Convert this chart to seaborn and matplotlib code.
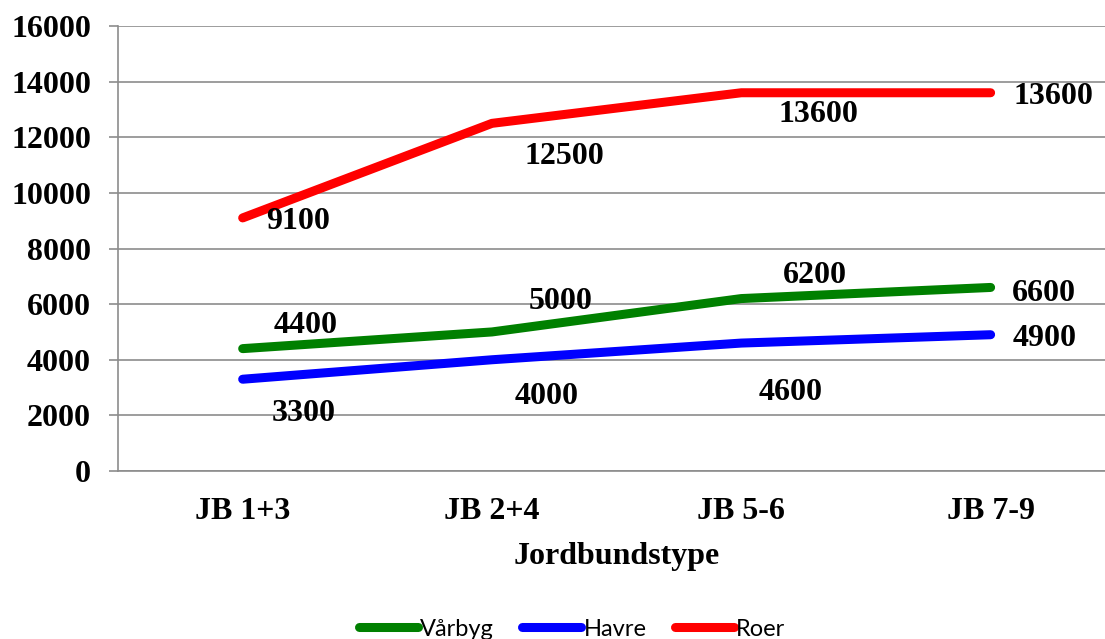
import numpy as np
import pandas as pd
import matplotlib
matplotlib.use("Agg")
import matplotlib.pyplot as plt
import seaborn as sns
from matplotlib.ticker import FixedLocator
from matplotlib.lines import Line2D

categories = ["JB 1+3", "JB 2+4", "JB 5-6", "JB 7-9"]
series_names = ["Vårbyg", "Havre", "Roer"]
varbyg = [4400, 5000, 6200, 6600]
havre = [3300, 4000, 4600, 4900]
roer = [9100, 12500, 13600, 13600]
y_ticks = [0, 2000, 4000, 6000, 8000, 10000, 12000, 14000, 16000]
x_label = "Jordbundstype"

colors = {"Vårbyg": "#008000", "Havre": "#0000FF", "Roer": "#FF0000"}

df = pd.DataFrame({
    "cat": categories * 3,
    "pos": list(range(len(categories))) * 3,
    "value": varbyg + havre + roer,
    "series": [s for s in series_names for _ in categories],
})

sns.set_style("white")
plt.rcParams["text.color"] = "black"
plt.rcParams["xtick.labelcolor"] = "black"
plt.rcParams["ytick.labelcolor"] = "black"
plt.rcParams["axes.labelcolor"] = "black"
serif = ["Liberation Serif", "DejaVu Serif"]

fig = plt.figure(figsize=(11.05, 6.39), dpi=100)
ax = fig.add_axes([0.1068, 0.2629, 0.9025, 0.6964])

sns.lineplot(data=df, x="pos", y="value", hue="series", hue_order=series_names,
             palette=colors, linewidth=6.5, ax=ax, legend=False,
             solid_capstyle="round")

ax.set_xlim(-0.5, 3.5)
ax.set_ylim(0, 16000)
ax.set_yticks(y_ticks)
ax.set_yticklabels([str(t) for t in y_ticks], fontfamily=serif,
                   fontweight="bold", fontsize=23, color="black")
ax.set_xticks(range(len(categories)))
ax.set_xticklabels(categories, fontfamily=serif, fontweight="bold", fontsize=23,
                   color="black")
ax.xaxis.set_minor_locator(FixedLocator([-0.5, 0.5, 1.5, 2.5, 3.5]))
ax.tick_params(axis="x", which="major", length=0, pad=19)
ax.tick_params(axis="x", which="minor", length=6, width=1.2, color="#8c8c8c",
               direction="out")
ax.tick_params(axis="y", which="major", length=6.5, width=1.2, color="#8c8c8c",
               direction="out", pad=13, left=True)
ax.grid(axis="y", color="#8c8c8c", linewidth=1.2)
ax.grid(axis="x", visible=False)
for side in ["top", "right"]:
    ax.spines[side].set_visible(False)
for side in ["left", "bottom"]:
    ax.spines[side].set_color("#8c8c8c")
    ax.spines[side].set_linewidth(1.2)
ax.set_axisbelow(True)
ax.set_xlabel(x_label, fontfamily=serif, fontweight="bold", fontsize=23,
              labelpad=11, color="black")
ax.set_ylabel("")

offsets = {
    "Roer": [(55, -4), (72, -33), (77, -22), (63, -4)],
    "Vårbyg": [(63, 23), (69, 30), (74, 23), (53, -6)],
    "Havre": [(61, -34), (55, -37), (49, -49), (54, -4)],
}
values = {"Vårbyg": varbyg, "Havre": havre, "Roer": roer}
for s in series_names:
    for i, v in enumerate(values[s]):
        dx, dy = offsets[s][i]
        ax.annotate(str(v), (i, v), xytext=(dx, dy), textcoords="offset pixels",
                    ha="center", va="center", fontfamily=serif,
                    fontweight="bold", fontsize=23, color="black",
                    annotation_clip=False)

handles = [Line2D([], [], color=colors[s], linewidth=6.5, solid_capstyle="round")
           for s in series_names]
fig.legend(handles, series_names, loc="center",
           bbox_to_anchor=(572 / 1105, 1 - 629 / 639), ncol=3, frameon=False,
           prop={"family": ["Lato", "DejaVu Sans"], "size": 17},
           handlelength=2.5, handletextpad=0.1, columnspacing=1.2,
           labelcolor="black")

fig.savefig("out.png", dpi=100)
